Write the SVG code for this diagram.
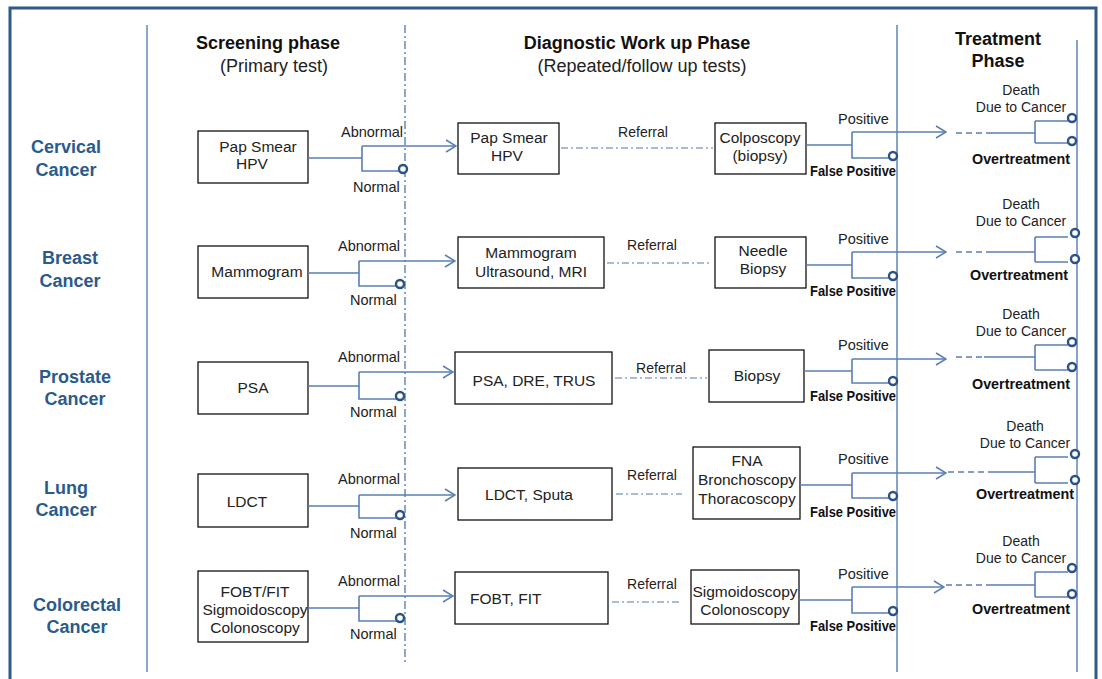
<svg xmlns="http://www.w3.org/2000/svg" width="1102" height="679" viewBox="0 0 1102 679">
<defs>
<style>
text{font-family:"Liberation Sans",Arial,sans-serif;fill:#111}
.hd{font-size:18px;font-weight:bold;text-anchor:middle}
.sub{font-size:18px;text-anchor:middle;fill:#222}
.rl{font-size:18px;font-weight:bold;fill:#2b5a8c;text-anchor:middle}
.bx{fill:#fff;stroke:#111;stroke-width:1.3}
.bt{font-size:15.5px;text-anchor:middle;fill:#222}
.lb{font-size:14.5px;fill:#222}
.ref{font-size:14px;text-anchor:middle;fill:#222}
.fp{font-size:14.5px;font-weight:bold;fill:#111}
.ot{font-size:14.5px;font-weight:bold;fill:#111;text-anchor:middle}
.dt{font-size:14px;text-anchor:middle;fill:#222}
.ln{fill:none;stroke:#5a7fb2;stroke-width:1.6}
.rf{fill:none;stroke:#8ea6c8;stroke-width:1.4;stroke-dasharray:7 3 2 3}
.dsh{fill:none;stroke:#5a7fb2;stroke-width:1.6;stroke-dasharray:6 4}
.cir{fill:#fff;stroke:#2b5287;stroke-width:2.4}
</style>
<marker id="ar" markerWidth="12" markerHeight="14" refX="11" refY="7" orient="auto" markerUnits="userSpaceOnUse">
<path d="M1,1 L11,7 L1,13" fill="none" stroke="#5a7fb2" stroke-width="1.5"/>
</marker>
</defs>
<rect x="0" y="0" width="1102" height="679" fill="#fff"/>
<rect x="10" y="8" width="1086" height="690" fill="none" stroke="#2d5a8a" stroke-width="3"/>

<g id="grid">
<line x1="147" y1="25" x2="147" y2="672" stroke="#8ba6c9" stroke-width="2"/>
<line x1="405" y1="25" x2="405" y2="665" stroke="#6f8fbf" stroke-width="1.6" stroke-dasharray="8 3 2 3"/>
<line x1="897" y1="25" x2="897" y2="672" stroke="#6a8cbc" stroke-width="1.6"/>
<line x1="1077" y1="40" x2="1077" y2="672" stroke="#6a8cbc" stroke-width="1.6"/>
</g>

<g id="headers">
<text class="hd" x="268" y="49">Screening phase</text>
<text class="sub" x="274" y="72">(Primary test)</text>
<text class="hd" x="637" y="49">Diagnostic Work up Phase</text>
<text class="sub" x="642" y="72">(Repeated/follow up tests)</text>
<text class="hd" x="998" y="45">Treatment</text>
<text class="hd" x="998" y="67">Phase</text>
</g>

<g id="row-labels">
<text class="rl" x="66" y="153">Cervical</text><text class="rl" x="66" y="176">Cancer</text>
<text class="rl" x="70" y="264">Breast</text><text class="rl" x="70" y="287">Cancer</text>
<text class="rl" x="75" y="383">Prostate</text><text class="rl" x="75" y="405">Cancer</text>
<text class="rl" x="66" y="494">Lung</text><text class="rl" x="66" y="516">Cancer</text>
<text class="rl" x="77" y="611">Colorectal</text><text class="rl" x="77" y="633">Cancer</text>
</g>

<!-- Row 1 Cervical -->
<g id="cervical-screen"><rect class="bx" x="198" y="131" width="110" height="52"/><text class="bt" x="258" y="152">Pap Smear</text><text class="bt" x="252" y="169">HPV</text></g>
<g id="cervical-diag"><rect class="bx" x="458" y="123" width="101" height="51"/><text class="bt" x="509" y="143">Pap Smear</text><text class="bt" x="507" y="161">HPV</text></g>
<g id="cervical-test"><rect class="bx" x="715" y="123" width="91" height="51"/><text class="bt" x="760" y="143">Colposcopy</text><text class="bt" x="760" y="161">(biopsy)</text></g>
<g id="cervical-treat"><text class="dt" x="1021" y="95">Death</text><text class="dt" x="1021" y="112">Due to Cancer</text><text class="ot" x="1021" y="164" textLength="98" lengthAdjust="spacingAndGlyphs">Overtreatment</text></g>

<!-- Row 2 Breast -->
<g id="breast-screen"><rect class="bx" x="198" y="246" width="110" height="52"/><text class="bt" x="257" y="277">Mammogram</text></g>
<g id="breast-diag"><rect class="bx" x="458" y="237" width="146" height="51"/><text class="bt" x="531" y="258">Mammogram</text><text class="bt" x="531" y="277">Ultrasound,  MRI</text></g>
<g id="breast-test"><rect class="bx" x="715" y="237" width="91" height="51"/><text class="bt" x="763" y="256">Needle</text><text class="bt" x="763" y="274">Biopsy</text></g>
<g id="breast-treat"><text class="dt" x="1021" y="209">Death</text><text class="dt" x="1021" y="226">Due to Cancer</text><text class="ot" x="1019" y="280" textLength="98" lengthAdjust="spacingAndGlyphs">Overtreatment</text></g>

<!-- Row 3 Prostate -->
<g id="prostate-screen"><rect class="bx" x="198" y="362" width="110" height="52"/><text class="bt" x="253" y="393">PSA</text></g>
<g id="prostate-diag"><rect class="bx" x="455" y="352" width="157" height="52"/><text class="bt" x="534" y="386">PSA, DRE, TRUS</text></g>
<g id="prostate-test"><rect class="bx" x="709" y="350" width="95" height="52"/><text class="bt" x="757" y="381">Biopsy</text></g>
<g id="prostate-treat"><text class="dt" x="1021" y="319">Death</text><text class="dt" x="1021" y="336">Due to Cancer</text><text class="ot" x="1021" y="389" textLength="98" lengthAdjust="spacingAndGlyphs">Overtreatment</text></g>

<!-- Row 4 Lung -->
<g id="lung-screen"><rect class="bx" x="198" y="474" width="110" height="53"/><text class="bt" x="247" y="507">LDCT</text></g>
<g id="lung-diag"><rect class="bx" x="458" y="468" width="154" height="52"/><text class="bt" x="529" y="500">LDCT, Sputa</text></g>
<g id="lung-test"><rect class="bx" x="693" y="447" width="107" height="72"/><text class="bt" x="747" y="466">FNA</text><text class="bt" x="747" y="485">Bronchoscopy</text><text class="bt" x="747" y="504">Thoracoscopy</text></g>
<g id="lung-treat"><text class="dt" x="1025" y="431">Death</text><text class="dt" x="1025" y="448">Due to Cancer</text><text class="ot" x="1025" y="499" textLength="98" lengthAdjust="spacingAndGlyphs">Overtreatment</text></g>

<!-- Row 5 Colorectal -->
<g id="colorectal-screen"><rect class="bx" x="198" y="571" width="110" height="71"/><text class="bt" x="255" y="597">FOBT/FIT</text><text class="bt" x="255" y="615">Sigmoidoscopy</text><text class="bt" x="255" y="633">Colonoscopy</text></g>
<g id="colorectal-diag"><rect class="bx" x="455" y="572" width="153" height="52"/><text class="bt" x="470" y="604" style="text-anchor:start">FOBT, FIT</text></g>
<g id="colorectal-test"><rect class="bx" x="691" y="570" width="108" height="54"/><text class="bt" x="745" y="597">Sigmoidoscopy</text><text class="bt" x="745" y="615">Colonoscopy</text></g>
<g id="colorectal-treat"><text class="dt" x="1021" y="546">Death</text><text class="dt" x="1021" y="563">Due to Cancer</text><text class="ot" x="1021" y="614" textLength="98" lengthAdjust="spacingAndGlyphs">Overtreatment</text></g>

<g id="connectors">
<!-- Row 1 -->
<path class="ln" d="M308,158 H362 M362,146 V171 H400"/>
<path class="ln" d="M362,146 H456" marker-end="url(#ar)"/>
<circle class="cir" cx="403" cy="169" r="4"/>
<path class="rf" d="M561,148 H713"/>
<path class="ln" d="M806,145 H852 M852,132 V158 H889"/>
<path class="ln" d="M852,132 H946" marker-end="url(#ar)"/>
<circle class="cir" cx="893" cy="156" r="4"/>
<path class="dsh" d="M956,133 H982"/>
<path class="ln" d="M986,133 H1035 M1035,121 V143 M1035,121 H1068 M1035,143 H1068"/>
<circle class="cir" cx="1072" cy="118" r="4"/><circle class="cir" cx="1072" cy="141" r="4"/>

<!-- Row 2 -->
<path class="ln" d="M308,273 H359 M359,261 V286 H397"/>
<path class="ln" d="M359,261 H455" marker-end="url(#ar)"/>
<circle class="cir" cx="400" cy="284" r="4"/>
<path class="rf" d="M607,263 H712"/>
<path class="ln" d="M806,265 H852 M852,252 V278 H889"/>
<path class="ln" d="M852,252 H946" marker-end="url(#ar)"/>
<circle class="cir" cx="893" cy="276" r="4"/>
<path class="dsh" d="M956,252 H982"/>
<path class="ln" d="M986,252 H1035 M1035,237 V262 M1035,237 H1068 M1035,262 H1068"/>
<circle class="cir" cx="1075" cy="233" r="4"/><circle class="cir" cx="1075" cy="259" r="4"/>

<!-- Row 3 -->
<path class="ln" d="M308,386 H359 M359,372 V399 H397"/>
<path class="ln" d="M359,372 H453" marker-end="url(#ar)"/>
<circle class="cir" cx="400" cy="396" r="4"/>
<path class="rf" d="M615,378 H707"/>
<path class="ln" d="M804,371 H852 M852,359 V383 H889"/>
<path class="ln" d="M852,359 H946" marker-end="url(#ar)"/>
<circle class="cir" cx="893" cy="381" r="4"/>
<path class="dsh" d="M956,357 H984"/>
<path class="ln" d="M984,357 H1035 M1035,345 V370 M1035,345 H1068 M1035,370 H1068"/>
<circle class="cir" cx="1072" cy="342" r="4"/><circle class="cir" cx="1072" cy="367" r="4"/>

<!-- Row 4 -->
<path class="ln" d="M308,506 H359 M359,495 V518 H397"/>
<path class="ln" d="M359,495 H455" marker-end="url(#ar)"/>
<circle class="cir" cx="400" cy="515" r="4"/>
<path class="rf" d="M616,494 H682"/>
<path class="ln" d="M800,485 H852 M852,473 V498 H889"/>
<path class="ln" d="M852,473 H946" marker-end="url(#ar)"/>
<circle class="cir" cx="893" cy="496" r="4"/>
<path class="dsh" d="M948,472 H990"/>
<path class="ln" d="M990,472 H1035 M1035,457 V483 M1035,457 H1068 M1035,483 H1068"/>
<circle class="cir" cx="1075" cy="454" r="4"/><circle class="cir" cx="1075" cy="480" r="4"/>

<!-- Row 5 -->
<path class="ln" d="M308,608 H359 M359,596 V621 H397"/>
<path class="ln" d="M359,596 H453" marker-end="url(#ar)"/>
<circle class="cir" cx="400" cy="618" r="4"/>
<path class="rf" d="M612,602 H682"/>
<path class="ln" d="M799,600 H852 M852,587 V613 H889"/>
<path class="ln" d="M852,587 H944" marker-end="url(#ar)"/>
<circle class="cir" cx="893" cy="611" r="4"/>
<path class="dsh" d="M946,585 H986"/>
<path class="ln" d="M986,585 H1035 M1035,572 V597 M1035,572 H1068 M1035,597 H1068"/>
<circle class="cir" cx="1072" cy="568" r="4"/><circle class="cir" cx="1072" cy="594" r="4"/>
</g>

<g id="connector-labels">
<text class="lb" x="341" y="137">Abnormal</text><text class="lb" x="353" y="192">Normal</text>
<text class="ref" x="643" y="137">Referral</text>
<text class="lb" x="838" y="124">Positive</text><text class="fp" x="810" y="176" textLength="86" lengthAdjust="spacingAndGlyphs">False Positive</text>

<text class="lb" x="338" y="251">Abnormal</text><text class="lb" x="350" y="305">Normal</text>
<text class="ref" x="652" y="250">Referral</text>
<text class="lb" x="838" y="244">Positive</text><text class="fp" x="810" y="296" textLength="86" lengthAdjust="spacingAndGlyphs">False Positive</text>

<text class="lb" x="338" y="362">Abnormal</text><text class="lb" x="350" y="417">Normal</text>
<text class="ref" x="661" y="373">Referral</text>
<text class="lb" x="838" y="350">Positive</text><text class="fp" x="810" y="401" textLength="86" lengthAdjust="spacingAndGlyphs">False Positive</text>

<text class="lb" x="338" y="484">Abnormal</text><text class="lb" x="350" y="538">Normal</text>
<text class="ref" x="652" y="480">Referral</text>
<text class="lb" x="838" y="464">Positive</text><text class="fp" x="810" y="517" textLength="86" lengthAdjust="spacingAndGlyphs">False Positive</text>

<text class="lb" x="338" y="586">Abnormal</text><text class="lb" x="350" y="639">Normal</text>
<text class="ref" x="652" y="589">Referral</text>
<text class="lb" x="838" y="579">Positive</text><text class="fp" x="810" y="631" textLength="86" lengthAdjust="spacingAndGlyphs">False Positive</text>
</g>
</svg>
